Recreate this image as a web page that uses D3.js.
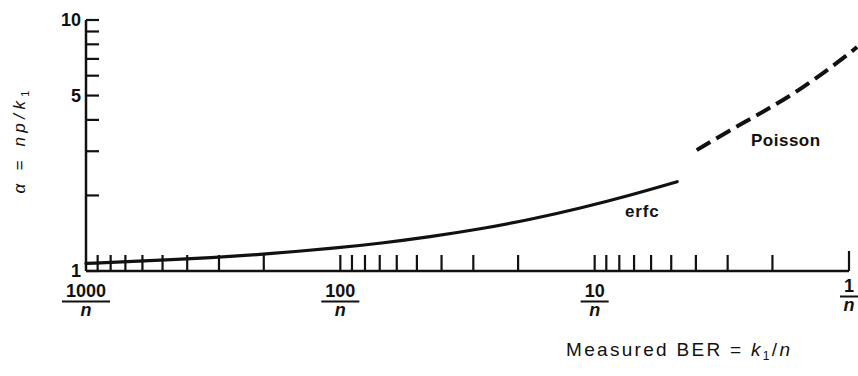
<!DOCTYPE html>
<html>
<head>
<meta charset="utf-8">
<script src="https://cdn.jsdelivr.net/npm/d3@7"></script>
<style>
  body { margin: 0; background: #fff; }
  svg { display: block; font-family: "Liberation Sans", Arial, Helvetica, sans-serif; }
</style>
</head>
<body>
<div id="chart"></div>
<script>
// BER axis is given as k1 (BER = k1/n), running from 1000/n on the left to 1/n on the right
var xTicks = [1000, 900, 800, 700, 600, 500, 400, 300, 200,
              100, 90, 80, 70, 60, 50, 40, 30, 20,
              10, 9, 8, 7, 6, 5, 4, 3, 2, 1];
var xLabels = [1000, 100, 10, 1];

var yTicks = [1, 2, 3, 4, 5, 6, 7, 8, 9, 10];
var yLabels = [1, 5, 10];

// erfc curve (solid)
var erfcK     = [1000, 613, 308, 207, 101, 69.8, 44.4, 28.2, 17.9, 11.4, 7.26, 4.74];
var erfcAlpha = [1.072, 1.094, 1.133, 1.163, 1.237, 1.289, 1.368, 1.469, 1.603, 1.778, 2.002, 2.269];

// Poisson curve (dashed)
var poisK     = [3.97, 2.93, 2.17, 1.60, 1.19, 0.976, 0.93];
var poisAlpha = [3.03, 3.645, 4.31, 5.18, 6.42, 7.48, 7.81];

var width = 858, height = 376;

var svg = d3.select("#chart").append("svg")
    .attr("width", width)
    .attr("height", height);

var x = d3.scaleLog().domain([1000, 1]).range([86, 849]);
var y = d3.scaleLog().domain([1, 10]).range([271, 20]);

var ink = "#111";

// y axis line
svg.append("line")
    .attr("x1", x(1000)).attr("x2", x(1000))
    .attr("y1", y(10)).attr("y2", y(1))
    .attr("stroke", ink).attr("stroke-width", 2.5);

// y ticks point inward (to the right)
svg.selectAll(".ytick")
    .data(yTicks)
    .enter().append("line")
    .attr("class", "ytick")
    .attr("x1", x(1000)).attr("x2", x(1000) + 13)
    .attr("y1", function(d) { return y(d); })
    .attr("y2", function(d) { return y(d); })
    .attr("stroke", ink).attr("stroke-width", 2.2);

svg.selectAll(".ylab")
    .data(yLabels)
    .enter().append("text")
    .attr("class", "ylab")
    .attr("x", x(1000) - 5)
    .attr("y", function(d) { return y(d); })
    .attr("dy", "0.36em")
    .attr("text-anchor", "end")
    .style("font-size", "18px")
    .style("font-weight", "bold")
    .attr("fill", ink)
    .text(function(d) { return d; });

// x axis baseline
svg.append("line")
    .attr("x1", x(1000)).attr("x2", x(1))
    .attr("y1", y(1)).attr("y2", y(1))
    .attr("stroke", ink).attr("stroke-width", 2.5);

// x ticks point up
svg.selectAll(".xtick")
    .data(xTicks.filter(function(d) { return d !== 1000; }))
    .enter().append("line")
    .attr("class", "xtick")
    .attr("x1", function(d) { return x(d); })
    .attr("x2", function(d) { return x(d); })
    .attr("y1", y(1))
    .attr("y2", function(d) { return d === 1 ? y(1) - 20 : y(1) - 16; })
    .attr("stroke", ink).attr("stroke-width", 2.2);

// fraction labels k/n
var lab = svg.selectAll(".xlab")
    .data(xLabels)
    .enter().append("g")
    .attr("class", "xlab")
    .attr("transform", function(d) { return "translate(" + x(d) + "," + (d === 1 ? 292 : 297) + ")"; });

lab.append("text")
    .attr("text-anchor", "middle")
    .style("font-size", "18px")
    .style("font-weight", "bold")
    .attr("fill", ink)
    .text(function(d) { return d; });

lab.append("line")
    .attr("x1", function(d) { return -(this.parentNode.querySelector("text").getComputedTextLength() / 2 + 4); })
    .attr("x2", function(d) { return this.parentNode.querySelector("text").getComputedTextLength() / 2 + 4; })
    .attr("y1", 4.5).attr("y2", 4.5)
    .attr("stroke", ink).attr("stroke-width", 2);

lab.append("text")
    .attr("text-anchor", "middle")
    .attr("y", 19)
    .style("font-size", "18px")
    .style("font-style", "italic")
    .style("font-weight", "bold")
    .attr("fill", ink)
    .text("n");

// curves
var erfc = erfcK.map(function(k, i) { return [k, erfcAlpha[i]]; });
var pois = poisK.map(function(k, i) { return [k, poisAlpha[i]]; });

var line = d3.line()
    .x(function(d) { return x(d[0]); })
    .y(function(d) { return y(d[1]); })
    .curve(d3.curveBasis);

svg.append("path")
    .attr("d", line(erfc))
    .attr("fill", "none")
    .attr("stroke", ink)
    .attr("stroke-width", 3.2)
    .attr("stroke-linecap", "round");

svg.append("path")
    .attr("d", line(pois))
    .attr("fill", "none")
    .attr("stroke", ink)
    .attr("stroke-width", 4)
    .attr("stroke-dasharray", "16,7");

// curve labels
svg.append("text")
    .attr("x", 625).attr("y", 217)
    .style("font-size", "17px")
    .style("font-weight", "bold")
    .style("letter-spacing", "0.8px")
    .attr("fill", ink)
    .text("erfc");

svg.append("text")
    .attr("x", 751).attr("y", 146)
    .style("font-size", "17px")
    .style("font-weight", "bold")
    .style("letter-spacing", "0.5px")
    .attr("fill", ink)
    .text("Poisson");

// y axis title
var yt = svg.append("text")
    .attr("transform", "translate(25,142) rotate(-90)")
    .attr("text-anchor", "middle")
    .style("font-size", "17px")
    .attr("fill", ink)
    .attr("textLength", 103)
    .attr("lengthAdjust", "spacing");
yt.append("tspan").style("font-style", "italic").text("\u03B1");
yt.append("tspan").text(" = ");
yt.append("tspan").style("font-style", "italic").text("np/k");
yt.append("tspan").attr("dy", 4).style("font-size", "11px").text("1");

// x axis title
var xt = svg.append("text")
    .attr("x", 566).attr("y", 356)
    .style("font-size", "19px")
    .attr("fill", ink)
    .attr("textLength", 224)
    .attr("lengthAdjust", "spacing");
xt.append("tspan").text("Measured BER = ");
xt.append("tspan").style("font-style", "italic").text("k");
xt.append("tspan").attr("dy", 4).style("font-size", "12px").text("1");
xt.append("tspan").attr("dy", -4).text("/");
xt.append("tspan").style("font-style", "italic").text("n");
</script>
</body>
</html>
